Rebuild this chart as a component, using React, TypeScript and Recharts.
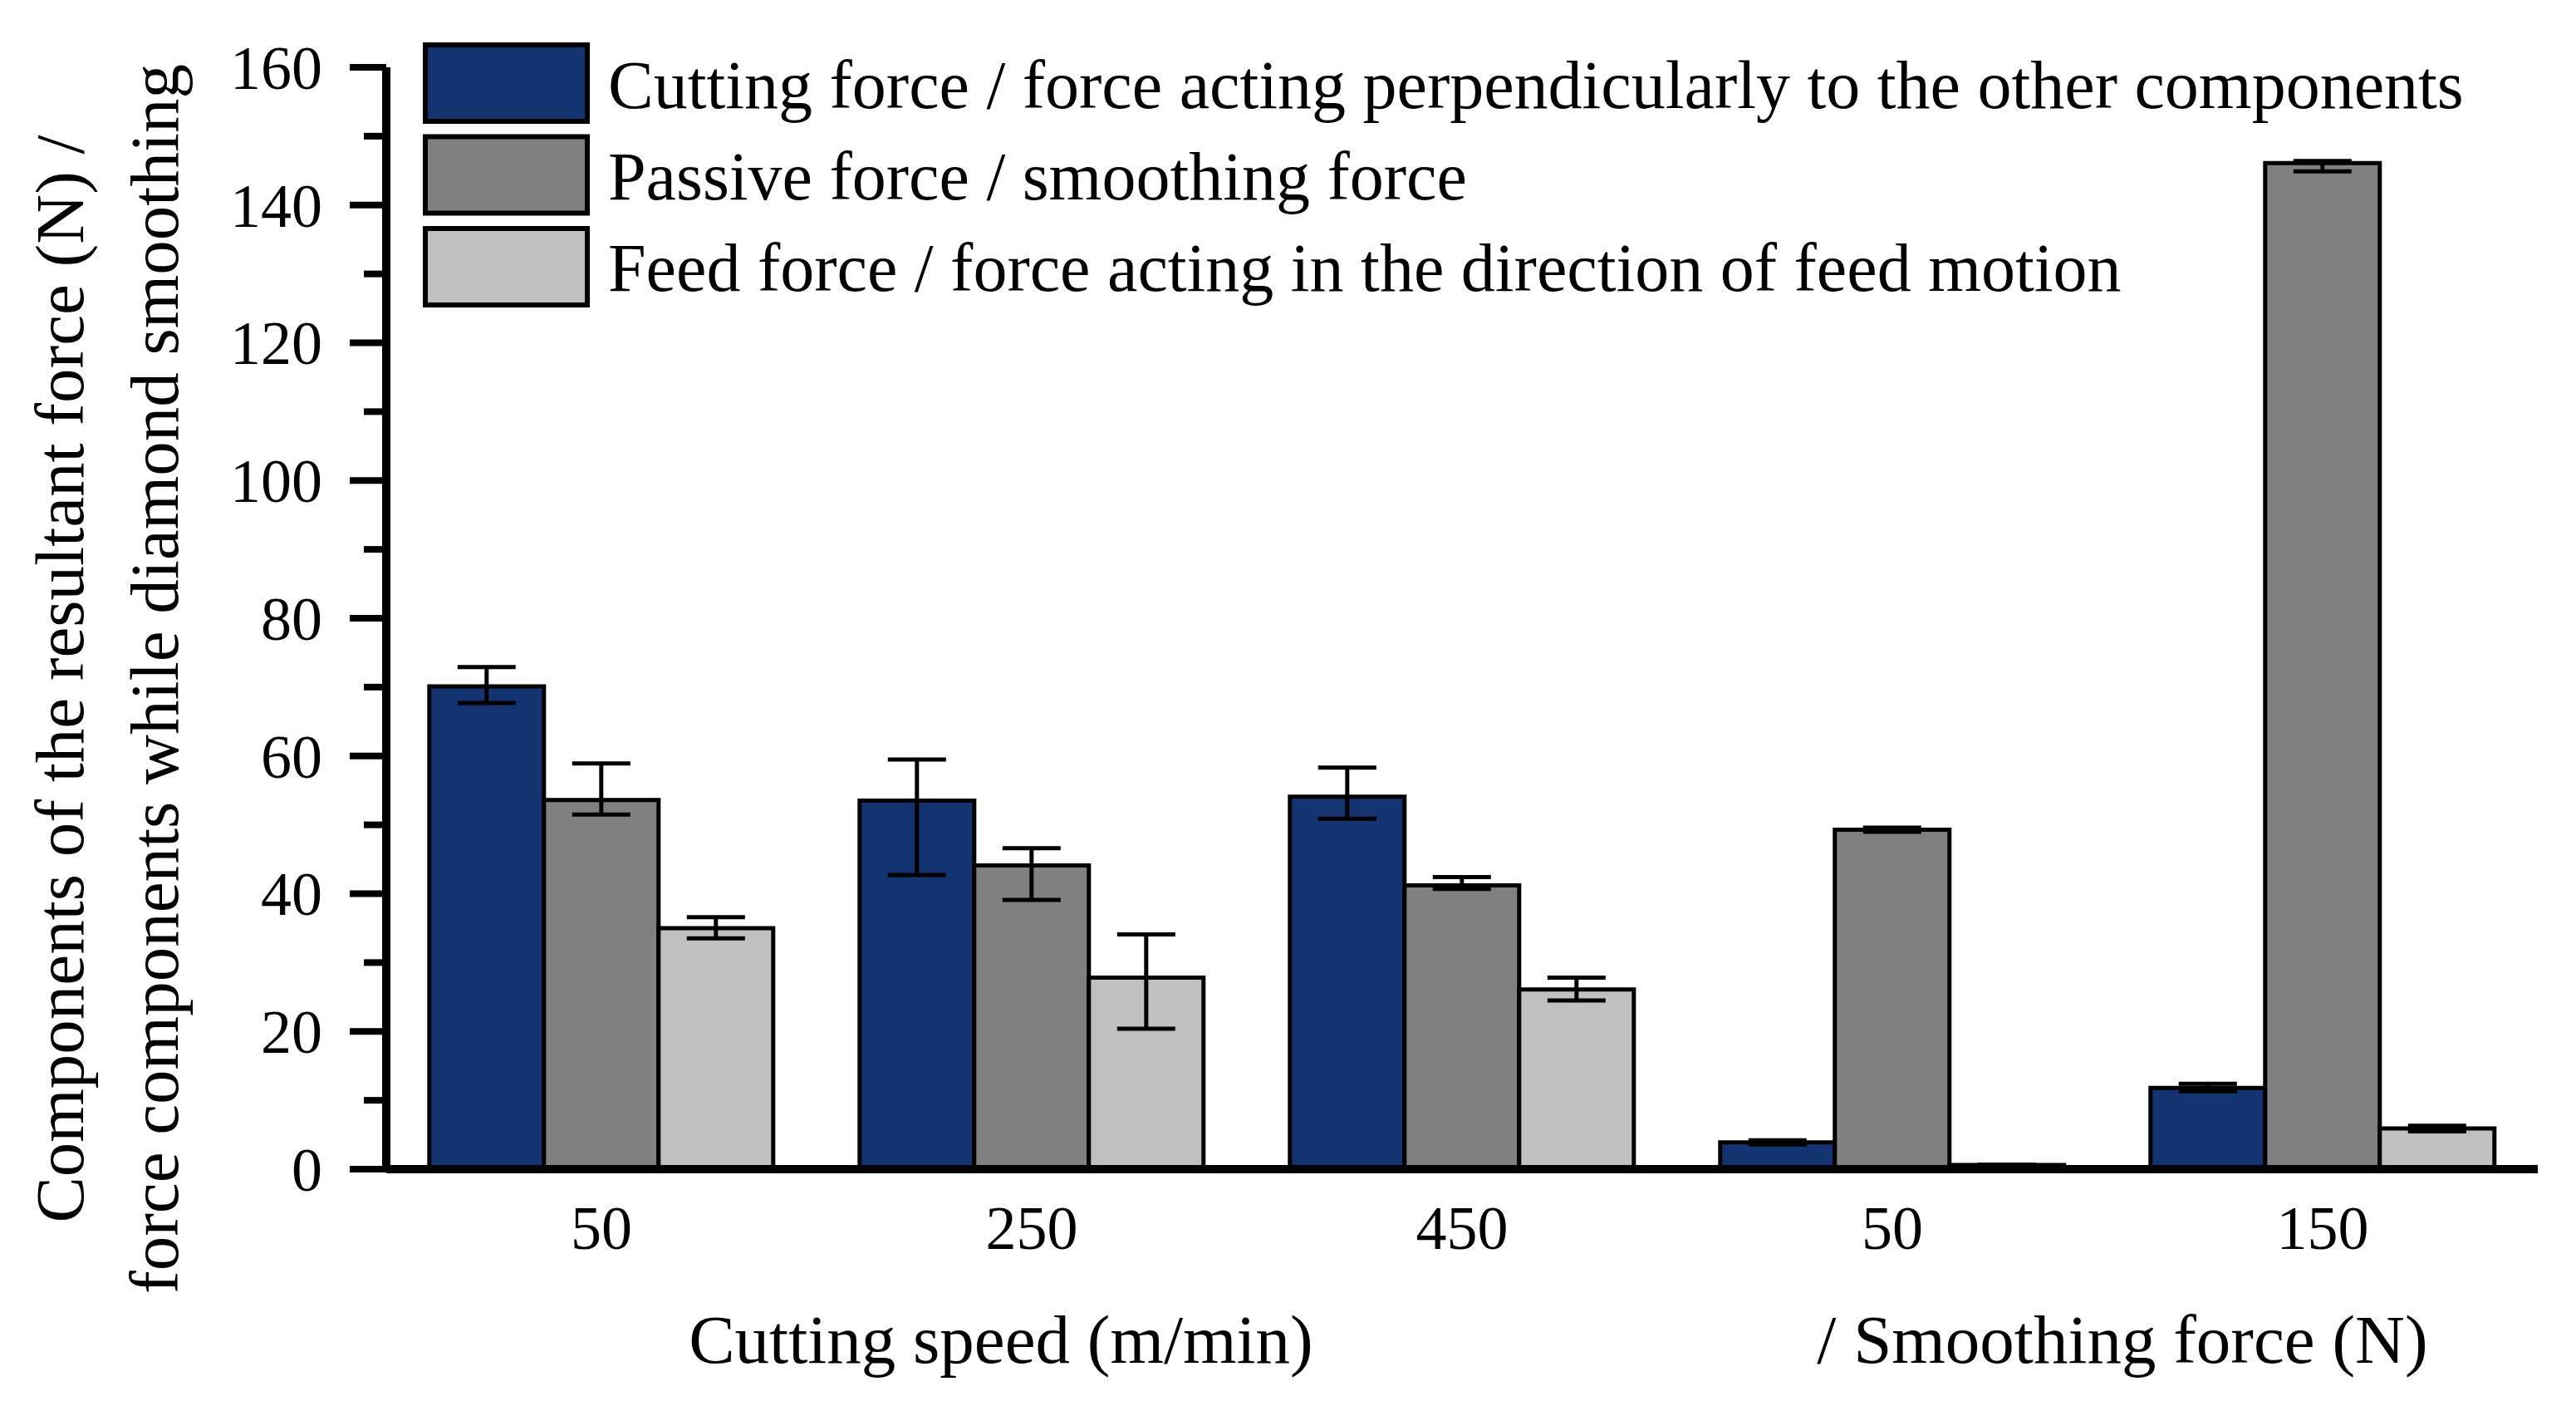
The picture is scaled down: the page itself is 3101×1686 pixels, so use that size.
import React from "react";
import { BarChart, Bar, XAxis, YAxis, ErrorBar } from "recharts";

const categories = ["50", "250", "450", "50", "150"];

const cutting = [70.1, 53.5, 54.1, 3.9, 11.8];
const cuttingErr = [[2.4, 2.8], [10.8, 6.0], [3.2, 4.2], [0.3, 0.3], [0.5, 0.6]];

const passive = [53.6, 44.1, 41.2, 49.3, 146.1];
const passiveErr = [[2.1, 5.3], [5.0, 2.5], [0.5, 1.2], [0.3, 0.3], [1.2, 0.3]];

const feed = [35.0, 27.8, 26.1, 0.6, 5.9];
const feedErr = [[1.5, 1.6], [7.4, 6.3], [1.6, 1.7], [0, 0], [0.4, 0.4]];

const yTicks = [0, 10, 20, 30, 40, 50, 60, 70, 80, 90, 100, 110, 120, 130, 140, 150, 160];

const seriesNames = [
  "Cutting force / force acting perpendicularly to the other components",
  "Passive force / smoothing force",
  "Feed force / force acting in the direction of feed motion",
];

const COLORS = ["#143371", "#808080", "#c0c0c0"];

const data = categories.map((name, i) => ({
  name,
  cutting: cutting[i],
  cuttingErr: cuttingErr[i],
  passive: passive[i],
  passiveErr: passiveErr[i],
  feed: feed[i],
  feedErr: feedErr[i],
}));

const FONT = "'Liberation Serif', serif";

const YTick = (props: any) => {
  const { x, y, payload } = props;
  const major = payload.value % 20 === 0;
  return (
    <g>
      <line x1={x - (major ? 44 : 27)} x2={x} y1={y} y2={y} stroke="#000" strokeWidth={8} />
      {major && (
        <text x={x - 77} y={y} dy="0.35em" textAnchor="end" fontFamily={FONT} fontSize={74} fill="#000">
          {payload.value}
        </text>
      )}
    </g>
  );
};

const XTick = (props: any) => {
  const { x, y, payload } = props;
  return (
    <text x={x} y={y + 96} textAnchor="middle" fontFamily={FONT} fontSize={74} fill="#000">
      {payload.value}
    </text>
  );
};

export default function App() {
  return (
    <div style={{ position: "absolute", top: 0, left: 0, width: 3101, height: 1686, background: "#fff" }}>
      <BarChart
        width={3101}
        height={1686}
        data={data}
        margin={{ top: 81, right: 46, left: 165, bottom: 129 }}
        barCategoryGap="10%"
        barGap={0}
      >
        <XAxis
          dataKey="name"
          height={150}
          axisLine={{ stroke: "#000", strokeWidth: 10 }}
          tickLine={false}
          tickSize={0}
          tickMargin={0}
          tick={<XTick />}
          interval={0}
        />
        <YAxis
          width={300}
          domain={[0, 160]}
          ticks={yTicks}
          interval={0}
          axisLine={{ stroke: "#000", strokeWidth: 10 }}
          tickLine={false}
          tickSize={0}
          tickMargin={0}
          tick={<YTick />}
        />
        <Bar dataKey="cutting" fill={COLORS[0]} stroke="#000" strokeWidth={5} isAnimationActive={false}>
          <ErrorBar dataKey="cuttingErr" width={35} stroke="#000" strokeWidth={5} isAnimationActive={false} />
        </Bar>
        <Bar dataKey="passive" fill={COLORS[1]} stroke="#000" strokeWidth={5} isAnimationActive={false}>
          <ErrorBar dataKey="passiveErr" width={35} stroke="#000" strokeWidth={5} isAnimationActive={false} />
        </Bar>
        <Bar dataKey="feed" fill={COLORS[2]} stroke="#000" strokeWidth={5} isAnimationActive={false}>
          <ErrorBar dataKey="feedErr" width={35} stroke="#000" strokeWidth={5} isAnimationActive={false} />
        </Bar>
      </BarChart>

      <svg
        width={3101}
        height={1686}
        style={{ position: "absolute", top: 0, left: 0, pointerEvents: "none" }}
        fontFamily={FONT}
        fill="#000"
      >
        {/* legend */}
        {seriesNames.map((name, i) => (
          <g key={name}>
            <rect x={512} y={54 + i * 110.5} width={195} height={92} fill={COLORS[i]} stroke="#000" strokeWidth={6} />
            <text x={732} y={130 + i * 110} fontSize={82}>
              {name}
            </text>
          </g>
        ))}

        {/* axis titles */}
        <text transform="translate(100,817) rotate(-90)" textAnchor="middle" fontSize={83}>
          Components of the resultant force (N) /
        </text>
        <text transform="translate(214,817) rotate(-90)" textAnchor="middle" fontSize={83}>
          force components while diamond smoothing
        </text>
        <text x={1205} y={1640} textAnchor="middle" fontSize={83}>
          Cutting speed (m/min)
        </text>
        <text x={2555} y={1640} textAnchor="middle" fontSize={83}>
          / Smoothing force (N)
        </text>
      </svg>
    </div>
  );
}
